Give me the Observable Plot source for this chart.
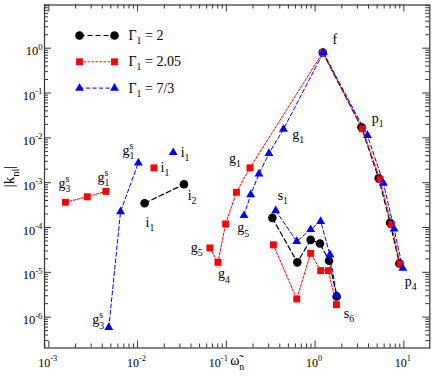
<!DOCTYPE html>
<html><head><meta charset="utf-8">
<script src="https://cdn.jsdelivr.net/npm/d3@7"></script>
<script src="https://cdn.jsdelivr.net/npm/@observablehq/plot@0.6"></script>
<style>body{margin:0;background:#fff;}</style>
</head><body><div id="chart"></div>
<script>
// ---------- data ----------
const seriesNames = ["Γ_{1} = 2", "Γ_{1} = 2.05", "Γ_{1} = 7/3"];

const gamma2_x   = [0.0120, 0.0333, 0.330, 0.631, 0.891, 1.135, 1.435, 1.75, 1.22, 3.33, 5.20, 6.99, 8.90];
const gamma2_y   = [3.47e-4, 9.2e-4, 1.64e-4, 1.67e-5, 5.3e-5, 4.4e-5, 1.82e-5, 2.9e-6, 0.80, 0.0172, 1.25e-3, 1.27e-4, 1.58e-5];
const gamma2_seg = [0, 0, 1, 1, 1, 1, 1, 1, 2, 2, 2, 2, 2];

const gamma205_x   = [0.00154, 0.00271, 0.0044, 0.0153, 0.0653, 0.0804, 0.0982, 0.130, 0.1846, 1.22, 3.41, 5.39, 7.25, 9.06, 0.339, 0.621, 0.891, 1.156, 1.41, 1.74];
const gamma205_y   = [3.65e-4, 4.85e-4, 6.4e-4, 2.14e-3, 3.5e-5, 1.67e-5, 1.2e-4, 6.1e-4, 2.14e-3, 0.80, 0.0159, 1.17e-3, 1.16e-4, 1.54e-5, 4.1e-5, 2.55e-6, 2.65e-5, 1.09e-5, 1.09e-5, 1.9e-6];
const gamma205_seg = [0, 0, 0, 1, 2, 2, 2, 2, 2, 2, 2, 2, 2, 2, 3, 3, 3, 3, 3, 3];

const gamma73_x   = [0.00474, 0.00643, 0.0102, 0.0252, 0.158, 0.188, 0.233, 0.302, 0.44, 1.24, 3.89, 5.89, 7.76, 9.72, 0.36, 0.621, 0.891, 1.156, 1.47, 1.75];
const gamma73_y   = [5.9e-7, 2.26e-4, 2.77e-3, 4.7e-3, 1.85e-4, 5.4e-4, 1.57e-3, 4.5e-3, 0.0156, 0.80, 0.0113, 9.7e-4, 9.3e-5, 1.23e-5, 2.38e-4, 4.9e-5, 9.0e-5, 1.37e-4, 2.48e-5, 3.0e-6];
const gamma73_seg = [0, 0, 0, 1, 2, 2, 2, 2, 2, 2, 2, 2, 2, 2, 3, 3, 3, 3, 3, 3];

const labelText = ["g_{3}^{s}", "g_{1}^{s}", "g_{1}^{s}", "i_{1}", "i_{1}", "i_{2}", "i_{1}", "g_{5}", "g_{4}", "g_{1}", "g_{5}", "g_{1}", "f", "p_{1}", "p_{4}", "s_{1}", "s_{6}", "g_{3}^{s}"];
const labelX = [0.001286, 0.003540, 0.006776, 0.01815, 0.03055, 0.03664, 0.01230, 0.03963, 0.08035, 0.1069, 0.1330, 0.5546, 1.567, 4.345, 10.23, 0.3784, 2.099, 0.003083];
const labelY = [9.55e-4, 1.30e-3, 5.21e-3, 2.17e-3, 4.70e-3, 5.15e-4, 1.29e-4, 3.61e-5, 9.2e-6, 3.5e-3, 9.8e-5, 0.01185, 1.56, 0.0270, 6.36e-6, 5.15e-4, 1.20e-6, 8.66e-7];

const xMajorTicks = [1e-3, 1e-2, 1e-1, 1, 10];
const xTickLabels = ["10^{-3}", "10^{-2}", "10^{-1}", "10^{0}", "10^{1}"];
const yMajorTicks = [1e-6, 1e-5, 1e-4, 1e-3, 1e-2, 1e-1, 1];
const yTickLabels = ["10^{-6}", "10^{-5}", "10^{-4}", "10^{-3}", "10^{-2}", "10^{-1}", "10^{0}"];
const xTitle = "ω\u0303_{n}";
const yTitle = "|k_{nl}|";

// ---------- layout ----------
const W = 436, H = 381;
const mL = 44, mR = 6.7, mT = 4.5, mB = 33.5;
const innerH = H - mT - mB;
const innerW = W - mL - mR;
const xDomain = [8.94e-4, 19.6];
const yDomain = [2.05e-7, 9.2];

const minorOf = (dom) => {
  const out = [];
  for (let e = -8; e <= 2; e++) for (let m = 2; m <= 9; m++) {
    const v = m * Math.pow(10, e);
    if (v > dom[0] * 1.001 && v < dom[1] * 0.999) out.push(v);
  }
  return out;
};
const xMinor = minorOf(xDomain), yMinor = minorOf(yDomain);

const mk = (xs, ys, seg) => xs.map((x, i) => ({x, y: ys[i], seg: seg[i]}));
const styles = [
  {data: mk(gamma2_x, gamma2_y, gamma2_seg), color: "#000000", dash: "5,3", sw: 1.2, symbol: "circle", r: 4.3},
  {data: mk(gamma205_x, gamma205_y, gamma205_seg), color: "#ff0000", dash: "2.5,1.5", sw: 1, symbol: "square", r: 3.9},
  {data: mk(gamma73_x, gamma73_y, gamma73_seg), color: "#0000ff", dash: "4,2.5", sw: 1, symbol: "triangle", r: 3.3}
];

const sx = Plot.scale({x: {type: "log", domain: xDomain, range: [mL, W - mR]}});
const sy = Plot.scale({y: {type: "log", domain: yDomain, range: [H - mB, mT]}});
const legX1 = sx.invert(mL + 35), legX2 = sx.invert(mL + 70), legXT = sx.invert(mL + 84);
const legRows = seriesNames.map((name, i) => ({name, y: sy.invert(mT + 30.5 + i * 26.3)}));

// the 10^-1 label sits left of its tick to make room for the axis title
const xTickIdx = xMajorTicks.map((d, i) => i);
const xTickMain = xTickIdx.filter(i => i !== 2);
const xTickShifted = [2];

const tickColor = "#333";
const marks = [
  Plot.ruleX(xMajorTicks, {x: d => d, insetTop: innerH - 7, stroke: tickColor}),
  Plot.ruleX(xMajorTicks, {x: d => d, insetBottom: innerH - 7, stroke: tickColor}),
  Plot.ruleX(xMinor, {x: d => d, insetTop: innerH - 4, stroke: tickColor}),
  Plot.ruleX(xMinor, {x: d => d, insetBottom: innerH - 4, stroke: tickColor}),
  Plot.ruleY(yMajorTicks, {y: d => d, insetRight: innerW - 7, stroke: tickColor}),
  Plot.ruleY(yMajorTicks, {y: d => d, insetLeft: innerW - 7, stroke: tickColor}),
  Plot.ruleY(yMinor, {y: d => d, insetRight: innerW - 4, stroke: tickColor}),
  Plot.ruleY(yMinor, {y: d => d, insetLeft: innerW - 4, stroke: tickColor}),
  Plot.frame({stroke: tickColor, strokeWidth: 1.2}),
  Plot.text(xTickMain, {x: i => xMajorTicks[i], frameAnchor: "bottom", lineAnchor: "middle", textAnchor: "middle", dx: -1, dy: 15, text: i => xTickLabels[i], fontSize: 12, fill: "black"}),
  Plot.text(xTickShifted, {x: i => xMajorTicks[i], frameAnchor: "bottom", lineAnchor: "middle", textAnchor: "end", dx: 1.5, dy: 15, text: i => xTickLabels[i], fontSize: 12, fill: "black"}),
  Plot.text(yMajorTicks, {y: d => d, frameAnchor: "left", textAnchor: "end", lineAnchor: "middle", dx: -2, dy: 3, text: (d, i) => yTickLabels[i], fontSize: 12.5, fill: "black"}),
  Plot.text([xTitle], {frameAnchor: "bottom", lineAnchor: "middle", textAnchor: "start", dx: -7, dy: 13, text: d => d, fontSize: 14, fill: "black"}),
  Plot.text([yTitle], {frameAnchor: "left", textAnchor: "middle", lineAnchor: "middle", dx: -35, rotate: -90, text: d => d, fontSize: 15, fill: "black"})
];

styles.forEach((s, i) => {
  marks.push(Plot.line(s.data, {x: "x", y: "y", z: "seg", stroke: s.color, strokeWidth: s.sw, strokeDasharray: s.dash}));
  marks.push(Plot.dot(s.data, {x: "x", y: "y", symbol: () => s.symbol, r: s.r, fill: s.color, stroke: "none"}));
  const row = [legRows[i]];
  marks.push(Plot.link(row, {x1: () => legX1, x2: () => legX2, y1: "y", y2: "y", stroke: s.color, strokeWidth: s.sw, strokeDasharray: s.dash}));
  marks.push(Plot.dot([{x: legX1, y: row[0].y}, {x: legX2, y: row[0].y}], {x: "x", y: "y", symbol: () => s.symbol, r: s.r, fill: s.color, stroke: "none"}));
  marks.push(Plot.text(row, {x: () => legXT, y: "y", text: "name", textAnchor: "start", fontSize: 14, fill: "black"}));
});

marks.push(Plot.text(labelText, {x: (d, i) => labelX[i], y: (d, i) => labelY[i], text: d => d, textAnchor: "start", fontSize: 14, fill: "black"}));

const chart = Plot.plot({
  width: W, height: H,
  marginLeft: mL, marginRight: mR, marginTop: mT, marginBottom: mB,
  x: {type: "log", domain: xDomain, axis: null},
  y: {type: "log", domain: yDomain, axis: null},
  style: {fontFamily: "'Liberation Serif', 'Times New Roman', serif", background: "white", overflow: "visible"},
  marks
});
document.getElementById("chart").appendChild(chart);

// ---------- sub/superscript markup -> tspans ----------
function applyMarkup(svg) {
  svg.querySelectorAll("text").forEach(t => {
    const s = t.textContent;
    if (!/[_^]\{/.test(s)) return;
    const fs = parseFloat(getComputedStyle(t).fontSize) || 12;
    const re = /([_^])\{([^}]*)\}|([^_^]+)/g;
    const toks = [];
    let m;
    while ((m = re.exec(s))) toks.push(m[3] !== undefined ? {k: "n", s: m[3]} : {k: m[1], s: m[2]});
    while (t.firstChild) t.removeChild(t.firstChild);
    let shift = 0, prev = null;
    const NS = "http://www.w3.org/2000/svg";
    toks.forEach(tok => {
      const sp = document.createElementNS(NS, "tspan");
      sp.textContent = tok.s;
      let target = 0;
      if (tok.k === "_") { target = 0.3 * fs; sp.setAttribute("font-size", 0.7 * fs); }
      else if (tok.k === "^") {
        target = -0.45 * fs; sp.setAttribute("font-size", 0.7 * fs);
        if (prev && prev.k === "_") sp.setAttribute("dx", -(prev.s.length * 0.5 * 0.7 * fs));
      }
      const dy = target - shift;
      if (dy !== 0) sp.setAttribute("dy", dy);
      shift = target;
      t.appendChild(sp);
      prev = tok;
    });
  });
}
applyMarkup(chart);
</script>
</body></html>
